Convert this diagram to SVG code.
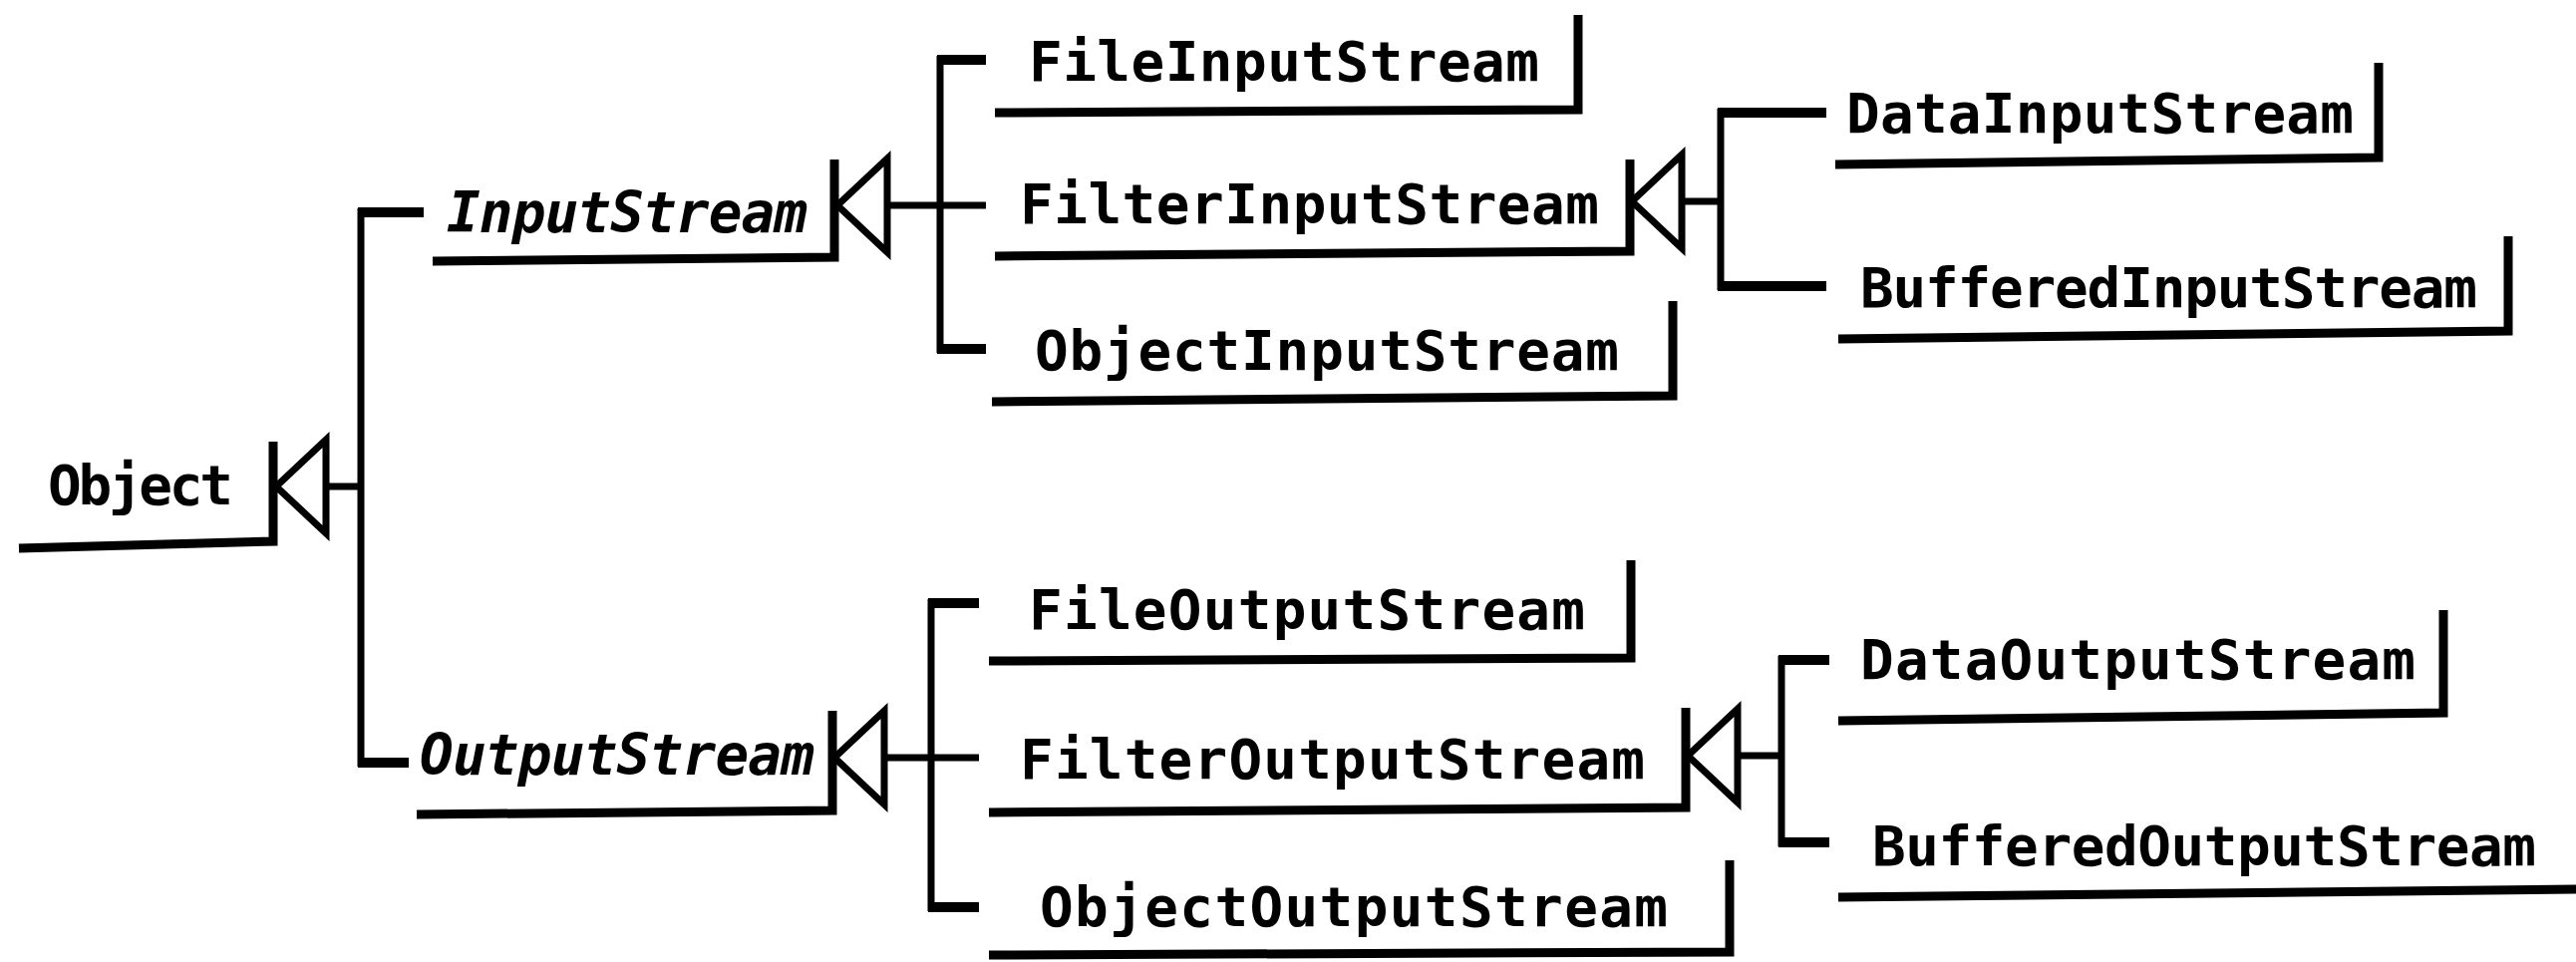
<svg xmlns="http://www.w3.org/2000/svg" width="2584" height="965" viewBox="0 0 2584 965">
<style>
.lbl{font-family:"DejaVu Sans Mono","Liberation Mono",monospace;font-weight:bold;font-size:56px;fill:#000}
.it{font-style:italic}
.box{fill:none;stroke:#000;stroke-width:9;stroke-linejoin:miter;stroke-linecap:butt}
.ln{fill:none;stroke:#000;stroke-width:7;stroke-linecap:butt}
.br{fill:none;stroke:#000;stroke-width:10;stroke-linecap:butt}
.tri{fill:#fff;stroke:#000;stroke-width:7;stroke-linejoin:miter}
</style>
<defs>
<path id="gen" d="M0,0 L50,-47 L50,47 Z"/>
</defs>
<rect width="2584" height="965" fill="#fff"/>

<g id="Object">
<text class="lbl" x="48" y="506" textLength="186" lengthAdjust="spacing">Object</text>
<polyline class="box" points="19,550 274,543 274,443"/>
</g>
<g id="InputStream">
<text class="lbl it" x="448" y="233" textLength="362" lengthAdjust="spacing">InputStream</text>
<polyline class="box" points="434,262 837,258 837,160"/>
</g>
<g id="FileInputStream">
<text class="lbl" x="1032" y="81" textLength="512" lengthAdjust="spacing">FileInputStream</text>
<polyline class="box" points="998,113 1583,110 1583,15"/>
</g>
<g id="FilterInputStream">
<text class="lbl" x="1023" y="224" textLength="581" lengthAdjust="spacing">FilterInputStream</text>
<polyline class="box" points="998,257 1635,252 1635,160"/>
</g>
<g id="ObjectInputStream">
<text class="lbl" x="1038" y="371" textLength="586" lengthAdjust="spacing">ObjectInputStream</text>
<polyline class="box" points="995,403 1678,397 1678,302"/>
</g>
<g id="DataInputStream">
<text class="lbl" x="1852" y="133" textLength="509" lengthAdjust="spacing">DataInputStream</text>
<polyline class="box" points="1841,165 2386,158 2386,63"/>
</g>
<g id="BufferedInputStream">
<text class="lbl" x="1866" y="308" textLength="619" lengthAdjust="spacing">BufferedInputStream</text>
<polyline class="box" points="1844,340 2516,332 2516,237"/>
</g>
<g id="OutputStream">
<text class="lbl it" x="421" y="777" textLength="396" lengthAdjust="spacing">OutputStream</text>
<polyline class="box" points="418,817 835,813 835,713"/>
</g>
<g id="FileOutputStream">
<text class="lbl" x="1032" y="631" textLength="558" lengthAdjust="spacing">FileOutputStream</text>
<polyline class="box" points="992,663 1636,660 1636,562"/>
</g>
<g id="FilterOutputStream">
<text class="lbl" x="1023" y="781" textLength="627" lengthAdjust="spacing">FilterOutputStream</text>
<polyline class="box" points="992,815 1691,810 1691,710"/>
</g>
<g id="ObjectOutputStream">
<text class="lbl" x="1043" y="929" textLength="630" lengthAdjust="spacing">ObjectOutputStream</text>
<polyline class="box" points="992,958 1735,955 1735,863"/>
</g>
<g id="DataOutputStream">
<text class="lbl" x="1866" y="681" textLength="557" lengthAdjust="spacing">DataOutputStream</text>
<polyline class="box" points="1844,723 2451,715 2451,612"/>
</g>
<g id="BufferedOutputStream">
<text class="lbl" x="1878" y="868" textLength="666" lengthAdjust="spacing">BufferedOutputStream</text>
<polyline class="box" points="1844,900 2590,892"/>
</g>

<g id="connectors">
<!-- Object hierarchy -->
<line class="ln" x1="324" y1="488" x2="362" y2="488"/>
<line class="ln" x1="362" y1="209" x2="362" y2="769"/>
<line class="br" x1="359" y1="213" x2="425" y2="213"/>
<line class="br" x1="359" y1="765" x2="410" y2="765"/>
<use href="#gen" class="tri" x="277" y="488"/>
<!-- InputStream hierarchy -->
<line class="ln" x1="890" y1="206" x2="989" y2="206"/>
<line class="ln" x1="943" y1="56" x2="943" y2="354"/>
<line class="br" x1="940" y1="60" x2="989" y2="60"/>
<line class="br" x1="940" y1="350" x2="989" y2="350"/>
<use href="#gen" class="tri" x="840" y="206"/>
<!-- FilterInputStream hierarchy -->
<line class="ln" x1="1686" y1="202" x2="1726" y2="202"/>
<line class="ln" x1="1726" y1="109" x2="1726" y2="291"/>
<line class="br" x1="1723" y1="113" x2="1832" y2="113"/>
<line class="br" x1="1723" y1="287" x2="1832" y2="287"/>
<use href="#gen" class="tri" x="1637" y="202"/>
<!-- OutputStream hierarchy -->
<line class="ln" x1="886" y1="760" x2="982" y2="760"/>
<line class="ln" x1="934" y1="601" x2="934" y2="914"/>
<line class="br" x1="931" y1="605" x2="982" y2="605"/>
<line class="br" x1="931" y1="910" x2="982" y2="910"/>
<use href="#gen" class="tri" x="837" y="760"/>
<!-- FilterOutputStream hierarchy -->
<line class="ln" x1="1743" y1="758" x2="1787" y2="758"/>
<line class="ln" x1="1787" y1="658" x2="1787" y2="849"/>
<line class="br" x1="1784" y1="662" x2="1835" y2="662"/>
<line class="br" x1="1784" y1="845" x2="1835" y2="845"/>
<use href="#gen" class="tri" x="1693" y="758"/>
</g>
</svg>
